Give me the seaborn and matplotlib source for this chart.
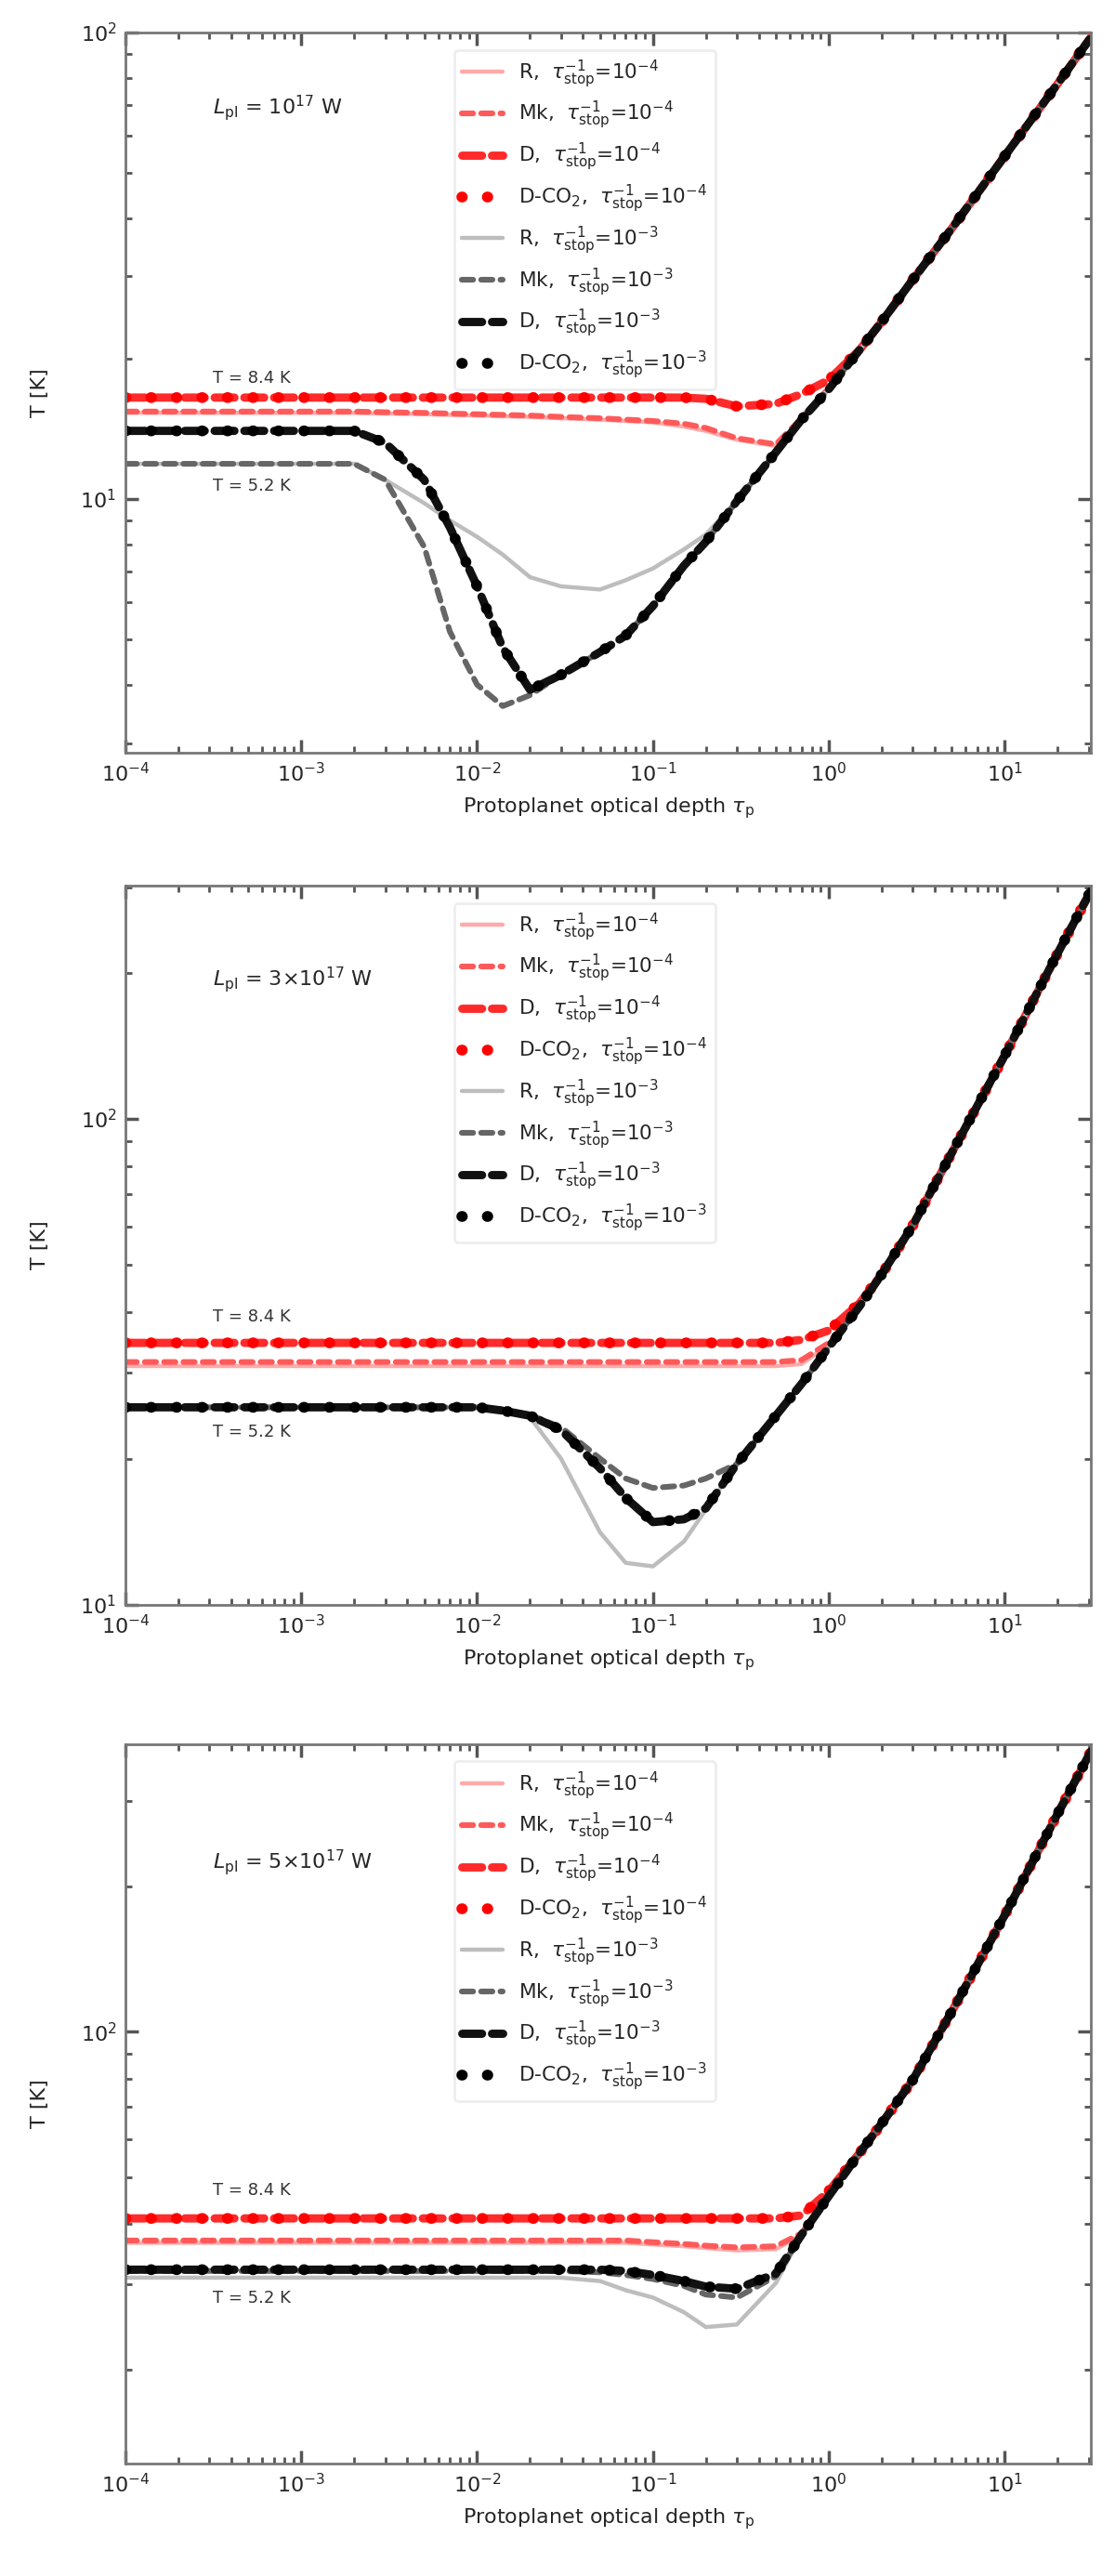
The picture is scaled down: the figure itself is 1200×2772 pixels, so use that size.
import matplotlib
matplotlib.use("Agg")
import numpy as np
import pandas as pd
import matplotlib.pyplot as plt
import seaborn as sns

# optical depth grid shared by every curve
tau = [1e-4, 1e-3, 2e-3, 3e-3, 5e-3, 7e-3, 1e-2, 1.4e-2, 2e-2, 3e-2, 5e-2, 7e-2,
       0.1, 0.15, 0.2, 0.3, 0.5, 0.7, 1.0, 1.5, 2.0, 3.0, 5.0, 10.0, 20.0, 31.0]

# panel 1 temperatures [K]
p1_red_R = [15.3, 15.3, 15.3, 15.25, 15.2, 15.15, 15.1, 15.05, 15.0, 14.9, 14.8, 14.7, 14.6,
            14.3, 14.0, 13.4, 13.0, 14.8, 17.2, 20.9, 24.0, 29.5, 38.0, 54.3, 77.6, 97.7]
p1_red_Mk = [15.4, 15.4, 15.4, 15.35, 15.3, 15.25, 15.2, 15.15, 15.1, 15.0, 14.9, 14.8, 14.7,
             14.5, 14.2, 13.5, 13.1, 14.9, 17.3, 20.9, 24.0, 29.5, 38.0, 54.3, 77.6, 97.7]
p1_red_D = [16.5, 16.5, 16.5, 16.5, 16.5, 16.5, 16.5, 16.5, 16.5, 16.5, 16.5, 16.5, 16.5,
            16.5, 16.4, 15.8, 16.0, 16.8, 18.0, 20.9, 24.0, 29.5, 38.0, 54.3, 77.6, 97.7]
p1_red_DC = [16.5, 16.5, 16.5, 16.5, 16.5, 16.5, 16.5, 16.5, 16.5, 16.5, 16.5, 16.5, 16.5,
             16.5, 16.4, 15.8, 16.0, 16.8, 18.0, 20.9, 24.0, 29.5, 38.0, 54.3, 77.6, 97.7]
p1_blk_R = [11.9, 11.9, 11.9, 11.0, 9.8, 9.0, 8.3, 7.6, 6.8, 6.5, 6.4, 6.7, 7.1,
            7.8, 8.4, 9.9, 12.6, 14.8, 17.2, 20.9, 24.0, 29.5, 38.0, 54.3, 77.6, 97.7]
p1_blk_Mk = [11.9, 11.9, 11.9, 11.0, 7.9, 5.2, 4.0, 3.6, 3.8, 4.2, 4.7, 5.1, 5.9,
             7.2, 8.1, 9.9, 12.6, 14.8, 17.2, 20.9, 24.0, 29.5, 38.0, 54.3, 77.6, 97.7]
p1_blk_D = [14.0, 14.0, 14.0, 13.2, 11.0, 8.7, 6.5, 4.8, 3.9, 4.2, 4.7, 5.1, 5.9,
            7.2, 8.1, 9.9, 12.6, 14.8, 17.2, 20.9, 24.0, 29.5, 38.0, 54.3, 77.6, 97.7]
p1_blk_DC = [14.0, 14.0, 14.0, 13.2, 11.0, 8.7, 6.5, 4.8, 3.9, 4.2, 4.7, 5.1, 5.9,
             7.2, 8.1, 9.9, 12.6, 14.8, 17.2, 20.9, 24.0, 29.5, 38.0, 54.3, 77.6, 97.7]

# panel 2
p2_red_R = [31.0, 31.0, 31.0, 31.0, 31.0, 31.0, 31.0, 31.0, 31.0, 31.0, 31.0, 31.0, 31.0,
            31.0, 31.0, 31.0, 31.0, 31.3, 34.3, 41.2, 47.9, 60.3, 85.1, 135, 219, 295]
p2_red_Mk = [31.6, 31.6, 31.6, 31.6, 31.6, 31.6, 31.6, 31.6, 31.6, 31.6, 31.6, 31.6, 31.6,
             31.6, 31.6, 31.6, 31.6, 31.9, 34.6, 41.2, 47.9, 60.3, 85.1, 135, 219, 295]
p2_red_D = [34.6, 34.6, 34.6, 34.6, 34.6, 34.6, 34.6, 34.6, 34.6, 34.6, 34.6, 34.6, 34.6,
            34.6, 34.6, 34.6, 34.6, 35.1, 36.7, 41.8, 47.9, 60.3, 85.1, 135, 219, 295]
p2_red_DC = [34.6, 34.6, 34.6, 34.6, 34.6, 34.6, 34.6, 34.6, 34.6, 34.6, 34.6, 34.6, 34.6,
             34.6, 34.6, 34.6, 34.6, 35.1, 36.7, 41.8, 47.9, 60.3, 85.1, 135, 219, 295]
p2_blk_R = [25.5, 25.5, 25.5, 25.5, 25.5, 25.5, 25.5, 25.0, 24.3, 20.0, 14.1, 12.2, 12.0,
            13.5, 15.7, 19.5, 24.5, 28.5, 33.9, 41.2, 47.9, 60.3, 85.1, 135, 219, 295]
p2_blk_Mk = [25.5, 25.5, 25.5, 25.5, 25.5, 25.5, 25.5, 25.2, 24.6, 23.2, 20.0, 18.2, 17.4,
             17.6, 18.2, 19.5, 24.5, 28.5, 33.9, 41.2, 47.9, 60.3, 85.1, 135, 219, 295]
p2_blk_D = [25.5, 25.5, 25.5, 25.5, 25.5, 25.5, 25.5, 25.1, 24.5, 22.9, 19.1, 16.6, 14.8,
            15.0, 15.8, 19.5, 24.5, 28.5, 33.9, 41.2, 47.9, 60.3, 85.1, 135, 219, 295]
p2_blk_DC = [25.5, 25.5, 25.5, 25.5, 25.5, 25.5, 25.5, 25.1, 24.5, 22.9, 19.1, 16.6, 14.8,
             15.0, 15.8, 19.5, 24.5, 28.5, 33.9, 41.2, 47.9, 60.3, 85.1, 135, 219, 295]

# panel 3
p3_red_R = [36.6, 36.6, 36.6, 36.6, 36.6, 36.6, 36.6, 36.6, 36.6, 36.6, 36.6, 36.6, 36.3,
            36.0, 35.7, 35.3, 35.5, 38.0, 45.7, 56.2, 64.6, 79.4, 110, 174, 282, 380]
p3_red_Mk = [37.0, 37.0, 37.0, 37.0, 37.0, 37.0, 37.0, 37.0, 37.0, 37.0, 37.0, 37.0, 36.7,
             36.4, 36.1, 35.8, 36.0, 38.3, 45.9, 56.2, 64.6, 79.4, 110, 174, 282, 380]
p3_red_D = [41.1, 41.1, 41.1, 41.1, 41.1, 41.1, 41.1, 41.1, 41.1, 41.1, 41.1, 41.1, 41.1,
            41.1, 41.1, 41.1, 41.1, 41.7, 46.8, 56.2, 64.6, 79.4, 110, 174, 282, 380]
p3_red_DC = [41.1, 41.1, 41.1, 41.1, 41.1, 41.1, 41.1, 41.1, 41.1, 41.1, 41.1, 41.1, 41.1,
             41.1, 41.1, 41.1, 41.1, 41.7, 46.8, 56.2, 64.6, 79.4, 110, 174, 282, 380]
p3_blk_R = [31.0, 31.0, 31.0, 31.0, 31.0, 31.0, 31.0, 31.0, 31.0, 31.0, 30.5, 29.2, 28.2,
            26.3, 24.5, 24.8, 30.2, 38.0, 45.7, 56.2, 64.6, 79.4, 110, 174, 282, 380]
p3_blk_Mk = [32.0, 32.0, 32.0, 32.0, 32.0, 32.0, 32.0, 32.0, 32.0, 32.0, 31.8, 31.4, 30.8,
             29.8, 28.6, 28.2, 31.2, 38.0, 45.7, 56.2, 64.6, 79.4, 110, 174, 282, 380]
p3_blk_D = [32.2, 32.2, 32.2, 32.2, 32.2, 32.2, 32.2, 32.2, 32.2, 32.2, 32.2, 32.0, 31.4,
            30.5, 29.7, 29.4, 31.6, 38.0, 45.7, 56.2, 64.6, 79.4, 110, 174, 282, 380]
p3_blk_DC = [32.2, 32.2, 32.2, 32.2, 32.2, 32.2, 32.2, 32.2, 32.2, 32.2, 32.2, 32.0, 31.4,
             30.5, 29.7, 29.4, 31.6, 38.0, 45.7, 56.2, 64.6, 79.4, 110, 174, 282, 380]

panel_curves = [
    [p1_red_R, p1_red_Mk, p1_red_D, p1_red_DC, p1_blk_R, p1_blk_Mk, p1_blk_D, p1_blk_DC],
    [p2_red_R, p2_red_Mk, p2_red_D, p2_red_DC, p2_blk_R, p2_blk_Mk, p2_blk_D, p2_blk_DC],
    [p3_red_R, p3_red_Mk, p3_red_D, p3_red_DC, p3_blk_R, p3_blk_Mk, p3_blk_D, p3_blk_DC],
]

labels = [
    r"R,  $\tau_{\rm stop}^{-1}$=10$^{-4}$",
    r"Mk,  $\tau_{\rm stop}^{-1}$=10$^{-4}$",
    r"D,  $\tau_{\rm stop}^{-1}$=10$^{-4}$",
    r"D-CO$_2$,  $\tau_{\rm stop}^{-1}$=10$^{-4}$",
    r"R,  $\tau_{\rm stop}^{-1}$=10$^{-3}$",
    r"Mk,  $\tau_{\rm stop}^{-1}$=10$^{-3}$",
    r"D,  $\tau_{\rm stop}^{-1}$=10$^{-3}$",
    r"D-CO$_2$,  $\tau_{\rm stop}^{-1}$=10$^{-3}$",
]
panel_text = [r"$L_{\rm pl}$ = 10$^{17}$ W",
              r"$L_{\rm pl}$ = 3$\times$10$^{17}$ W",
              r"$L_{\rm pl}$ = 5$\times$10$^{17}$ W"]
upper_note = r"T = 8.4 K"
lower_note = r"T = 5.2 K"
ylims = [(2.86, 100), (10, 302), (12.8, 393)]
note_y = [(0.52, 0.37), (0.40, 0.24), (0.38, 0.23)]
text_y = [0.895, 0.87, 0.836]

colors = ["#ffaaaa", "#ff5a5a", "#ff2a2a", "#ff0000",
          "#bdbdbd", "#666666", "#111111", "#000000"]
widths = [1.6, 2.2, 3.2, 4.2, 1.6, 2.2, 3.2, 4.2]
dashes = ["-", (0, (2.0, 1.4)), (0, (2.4, 1.2)), (0, (0.05, 2.3)),
          "-", (0, (2.0, 1.4)), (0, (2.4, 1.2)), (0, (0.05, 2.3))]

sns.set_theme(style="ticks")
plt.rcParams["font.family"] = ["DejaVu Sans"]

fig = plt.figure(figsize=(6, 13.86), dpi=200)
boxes = [[0.1125, 0.7078, 0.866, 0.2796],
         [0.1125, 0.3770, 0.866, 0.2792],
         [0.1125, 0.0437, 0.866, 0.2792]]

for k in range(3):
    ax = fig.add_axes(boxes[k])
    for i, temps in enumerate(panel_curves[k]):
        df = pd.DataFrame({"tau": tau, "T": temps})
        sns.lineplot(data=df, x="tau", y="T", ax=ax, color=colors[i],
                     linewidth=widths[i], linestyle=dashes[i], label=labels[i],
                     estimator=None, sort=False, dash_capstyle="round")
    ax.set_xscale("log")
    ax.set_yscale("log")
    ax.set_xlim(1e-4, 31)
    ax.set_ylim(*ylims[k])
    ax.tick_params(which="both", direction="in", top=True, right=True,
                   labelsize=8, color="#555555")
    ax.tick_params(which="major", length=5)
    ax.tick_params(which="minor", length=2.5)
    for s in ax.spines.values():
        s.set_color("#777777")
        s.set_linewidth(1.0)
    ax.set_ylabel("T [K]", fontsize=8, labelpad=12)
    ax.set_xlabel(r"Protoplanet optical depth $\tau_{\rm p}$", fontsize=8)
    ax.text(0.09, text_y[k], panel_text[k], transform=ax.transAxes,
            fontsize=8, va="center")
    ax.text(0.09, note_y[k][0], upper_note, transform=ax.transAxes,
            fontsize=6.5, va="center", color="#333333")
    ax.text(0.09, note_y[k][1], lower_note, transform=ax.transAxes,
            fontsize=6.5, va="center", color="#333333")
    leg = ax.legend(loc="upper left", bbox_to_anchor=(0.33, 0.99), fontsize=7.8,
                    handlelength=2.0, labelspacing=0.48, frameon=True,
                    framealpha=1.0, edgecolor="#eeeeee", fancybox=True)

fig.savefig("out.png", dpi=200)
